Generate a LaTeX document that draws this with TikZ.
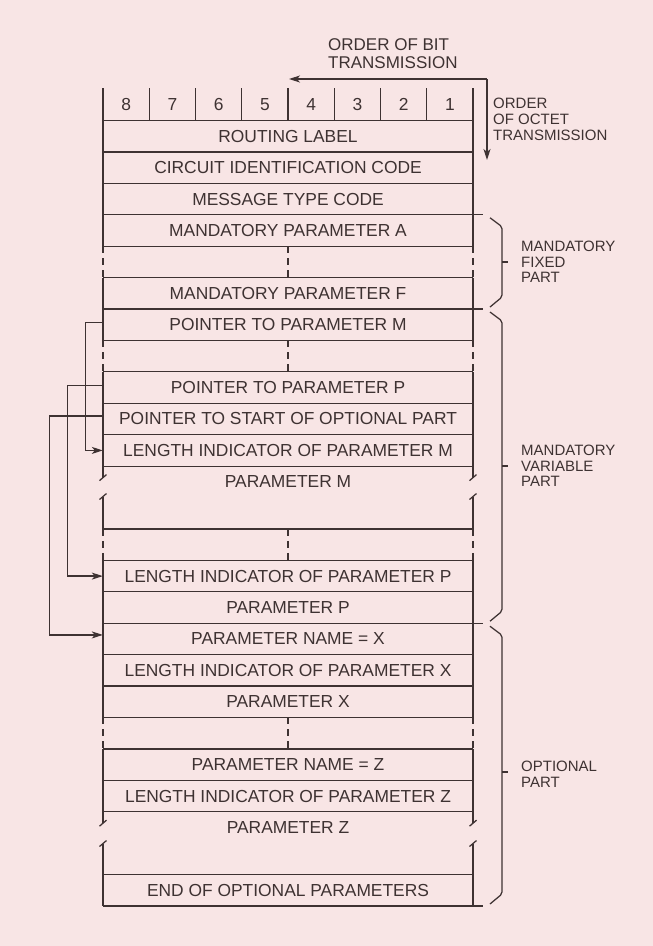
\documentclass[tikz,border=0pt]{standalone}
\usepackage{fontspec}
\setmainfont{Liberation Sans}
\usetikzlibrary{arrows.meta}

\definecolor{paper}{RGB}{248,229,229}
\definecolor{ink}{RGB}{62,50,50}

\tikzset{
	field/.style={minimum width=370pt,minimum height=31.42pt,inner sep=0pt,text=ink,font=\fontsize{17.4}{20}\selectfont},
	bitno/.style={inner sep=0pt,text=ink,font=\fontsize{17.4}{20}\selectfont},
	note/.style={anchor=west,align=left,inner sep=0pt,text=ink},
	rule/.style={draw=ink,line width=1.25pt},
	link/.style={rule,-{Stealth[length=11pt,width=7pt,inset=3pt]}},
	gapline/.style={rule,dash pattern=on 7pt off 5pt},
}

\begin{document}
\begin{tikzpicture}[x=1pt,y=-1pt]
	\fill[paper] (0,0) rectangle (653,946);
	\useasboundingbox (0,0) rectangle (653,946);

	% bit numbers
	\foreach \i in {0,...,8}
		\draw[rule] (103+46.25*\i,88) -- (103+46.25*\i,120.5);
	\foreach \i in {1,...,8}
		\node[bitno] (b\i) at (496.125-46.25*\i,104.5) {\i};

	\node[note,font=\fontsize{17}{18}\selectfont] (bitorder) at (328,54) {ORDER OF BIT\\TRANSMISSION};
	\node[note,font=\fontsize{15}{16}\selectfont] (octorder) at (493,119) {ORDER\\OF OCTET\\TRANSMISSION};
	\coordinate (corner) at (487,79);
	\coordinate (bittip) at (289,79);
	\coordinate (octtip) at (487,160);
	\draw[link] (corner) -- (bittip);
	\draw[link] (corner) -- (octtip);

	% octets
	\foreach \k/\nm/\txt in {1/rl/ROUTING LABEL,2/cic/CIRCUIT IDENTIFICATION CODE,3/mtc/MESSAGE TYPE CODE,
		4/mpa/MANDATORY PARAMETER A,6/mpf/MANDATORY PARAMETER F,7/ptrm/POINTER TO PARAMETER M,
		9/ptrp/POINTER TO PARAMETER P,10/ptropt/POINTER TO START OF OPTIONAL PART,
		11/lim/LENGTH INDICATOR OF PARAMETER M,12/parm/PARAMETER M,15/lip/LENGTH INDICATOR OF PARAMETER P,
		16/parp/PARAMETER P,17/pnx/PARAMETER NAME = X,18/lix/LENGTH INDICATOR OF PARAMETER X,
		19/parx/PARAMETER X,21/pnz/PARAMETER NAME = Z,22/liz/LENGTH INDICATOR OF PARAMETER Z,
		23/parz/PARAMETER Z,25/eop/END OF OPTIONAL PARAMETERS}
		\node[field] (\nm) at (288,104.79+31.42*\k) {\txt};

	\foreach \k in {0,1,2,4,5,7,8,9,10,11,13,14,15,17,18,19,20,21,22,24}
		\draw[rule] (103,120.5+31.42*\k) -- (473,120.5+31.42*\k);
	\foreach \k in {3,6,16,25}
		\draw[rule] (103,120.5+31.42*\k) -- (483,120.5+31.42*\k);

	\foreach \x in {103,473}{
		\draw[rule] (\x,88) -- (\x,246.18);
		\draw[gapline] (\x,246.18) -- (\x,277.6);
		\draw[rule] (\x,277.6) -- (\x,340.44);
		\draw[gapline] (\x,340.44) -- (\x,371.86);
		\draw[rule] (\x,371.86) -- (\x,477.6);
		\draw[rule] (\x+3.5,474.6) -- (\x-3.5,480.6);
		\draw[rule] (\x+3.5,493.5) -- (\x-3.5,499.5);
		\draw[rule] (\x,496.5) -- (\x,528.96);
		\draw[gapline] (\x,528.96) -- (\x,560.38);
		\draw[rule] (\x,560.38) -- (\x,717.48);
		\draw[gapline] (\x,717.48) -- (\x,748.9);
		\draw[rule] (\x,748.9) -- (\x,823.2);
		\draw[rule] (\x+3.5,820.2) -- (\x-3.5,826.2);
		\draw[rule] (\x+3.5,840.5) -- (\x-3.5,846.5);
		\draw[rule] (\x,843.5) -- (\x,906);
	}
	\foreach \t in {246.18,340.44,528.96,717.48}
		\draw[gapline] (288,\t) -- (288,\t+31.42);

	% pointers
	\draw[link] ([yshift=2pt]ptrm.west) -- ++(-17.3,0) |- (lim.west);
	\draw[link] ([yshift=2pt]ptrp.west) -- ++(-35.3,0) |- (lip.west);
	\draw[link] ([yshift=3pt]ptropt.west) -- ++(-53,0) |- ([yshift=4pt]pnx.west);

	% parts
	\foreach \t/\m/\b in {214.76/262/309.02,309.02/466/623.22,623.22/772/906}{
		\draw[rule,rounded corners=2pt] (490,\t+3) -- (502,\t+12) -- (502,\b-12) -- (490,\b-2);
		\draw[rule] (502,\m) -- (508,\m);
	}
	\node[note,font=\fontsize{15}{15.7}\selectfont] (fixed) at (521,262) {MANDATORY\\FIXED\\PART};
	\node[note,font=\fontsize{15}{15.7}\selectfont] (variable) at (521,466) {MANDATORY\\VARIABLE\\PART};
	\node[note,font=\fontsize{15}{15.7}\selectfont] (optional) at (521,774) {OPTIONAL\\PART};
\end{tikzpicture}
\end{document}
